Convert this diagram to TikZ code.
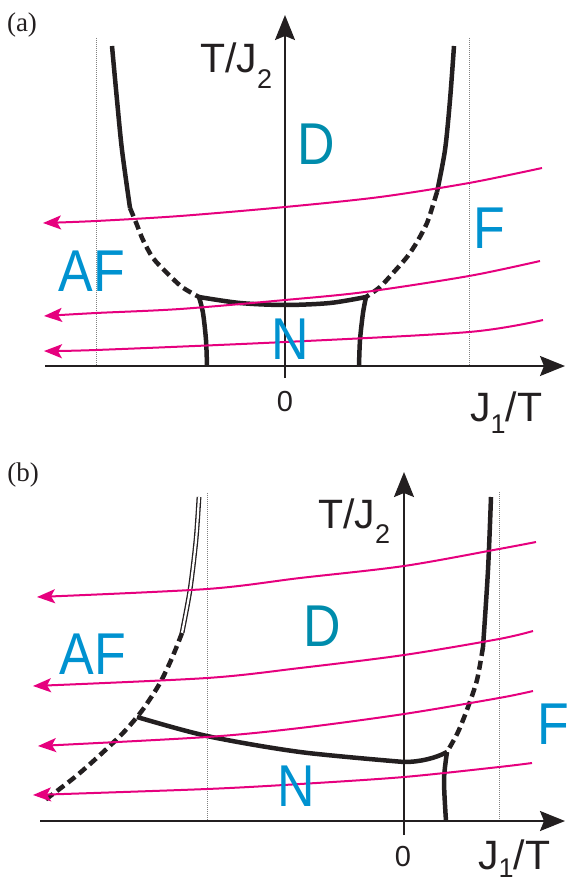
\documentclass[tikz,border=0pt]{standalone}
\usepackage{graphicx}
\usepackage{fontspec}
\setmainfont{Liberation Sans}
\newfontfamily\seriffam{Liberation Serif}
\usetikzlibrary{arrows.meta}
\definecolor{ink}{RGB}{35,31,32}
\definecolor{mag}{RGB}{230,0,126}
\definecolor{lblue}{RGB}{0,146,208}
\definecolor{dteal}{RGB}{0,140,172}
\newcommand\phlab[1]{\scalebox{0.88}[1]{#1}}
\begin{document}
\begin{tikzpicture}[x=1pt,y=-1pt,
  axis/.style={ink, line width=2pt, -{Stealth[length=25pt,width=20pt,inset=4pt]}},
  bound/.style={ink, line width=4.5pt},
  crossover/.style={ink, line width=4.5pt, dash pattern=on 9pt off 5pt},
  flow/.style={mag, line width=2pt, -{Stealth[length=18pt,width=14pt,inset=4pt]}},
  guide/.style={gray, line width=0.8pt, dash pattern=on 1pt off 1pt},
  phase/.style={lblue, font=\fontsize{59}{59}\selectfont, inner sep=0pt},
  axlabel/.style={ink, font=\fontsize{41}{41}\selectfont, inner sep=0pt, anchor=base west},
  zerolab/.style={ink, font=\fontsize{29}{29}\selectfont, inner sep=0pt},
  panel/.style={ink, font=\seriffam\fontsize{27}{27}\selectfont, inner sep=0pt}]
\useasboundingbox (0,0) rectangle (568,883);

% ================= panel (a) =================
\node[panel] (pa) at (22,25) {(a)};
% guides
\coordinate (ga1) at (96,38);  \coordinate (ga2) at (96,366);
\coordinate (gb1) at (469,38); \coordinate (gb2) at (469,366);
\draw[guide] (ga1) -- (ga2);
\draw[guide] (gb1) -- (gb2);
% axes
\coordinate (axa0) at (45,366);  \coordinate (axa1) at (565,366);
\coordinate (aya0) at (285,378); \coordinate (aya1) at (285,15);
\draw[axis] (axa0) -- (axa1);
\draw[axis] (aya0) -- (aya1);
% junctions
\coordinate (aL) at (199,297);
\coordinate (aR) at (366,297);
\coordinate (aLs) at (130,208);
\coordinate (aRs) at (437,192);
% left boundary
\draw[bound] plot[smooth] coordinates {(112,46) (117,100) (122,150) (aLs)};
\draw[crossover] plot[smooth] coordinates {(aLs) (137,225) (143,240) (153,258) (167,273) (182,287) (aL)};
% right boundary
\draw[bound] plot[smooth] coordinates {(454,46) (450,100) (445,150) (aRs)};
\draw[crossover] plot[smooth] coordinates {(aRs) (433,205) (427,223) (417,242) (407,257) (393,273) (380,287) (aR)};
% N region
\draw[bound, line join=round] plot[smooth] coordinates {(aL) (240,303) (285,305) (330,303) (aR)};
\draw[bound] plot[smooth] coordinates {(aL) (203,313) (206,340) (207,366)};
\draw[bound] plot[smooth] coordinates {(aR) (363,313) (360,340) (359,366)};
% flows
\draw[flow] plot[smooth, tension=0.5] coordinates {(542,168) (469,183) (380,197) (285,207) (180,216) (96,221) (43,223)};
\draw[flow] plot[smooth, tension=0.5] coordinates {(540,261) (469,276) (365,292) (285,300) (180,309) (96,313) (44,316)};
\draw[flow] plot[smooth, tension=0.5] coordinates {(543,320) (469,332) (285,342) (96,350) (44,351)};
% labels
\node[axlabel] (tja) at (200,73) {T/J\raisebox{-0.37em}{\fontsize{27}{27}\selectfont 2}};
\node[axlabel] (jta) at (470,421) {J\raisebox{-0.3em}{\fontsize{27}{27}\selectfont 1}/T};
\node[zerolab] (za) at (285,402) {0};
\node[phase, text=dteal] (Da) at (316,144) {\phlab{D}};
\node[phase] (AFa) at (92,271) {\phlab{AF}};
\node[phase] (Fa) at (489,228) {\phlab{F}};
\node[phase] (Na) at (290,339) {\phlab{N}};

% ================= panel (b) =================
\node[panel] (pb) at (23,475) {(b)};
\coordinate (gc1) at (207,493); \coordinate (gc2) at (207,821);
\coordinate (gd1) at (499,492); \coordinate (gd2) at (499,821);
\draw[guide] (gc1) -- (gc2);
\draw[guide] (gd1) -- (gd2);
\coordinate (axb0) at (40,821);  \coordinate (axb1) at (565,821);
\coordinate (ayb0) at (404,835); \coordinate (ayb1) at (404,472);
\draw[axis] (axb0) -- (axb1);
\draw[axis] (ayb0) -- (ayb1);
% junctions
\coordinate (bD) at (182,633);
\coordinate (bL) at (137,717);
\coordinate (bM) at (404,762);
\coordinate (bR) at (447,752);
\coordinate (bRs) at (483,647);
% left boundary: double line then dashed
\draw[ink, double=white, double distance=2.2pt, line width=1.3pt] plot[smooth] coordinates {(199,497) (196,540) (190,590) (bD)};
\draw[crossover] plot[smooth] coordinates {(bD) (172,658) (160,683) (146,705) (bL) (122,734) (100,755) (75,777) (45,800)};
% right boundary
\draw[bound] plot[smooth] coordinates {(491,497) (488,570) (bRs)};
\draw[crossover] plot[smooth] coordinates {(bRs) (477,680) (468,707) (458,732) (bR)};
% N region
\draw[bound] plot[smooth, tension=0.5] coordinates {(bL) (207,736) (300,752) (bM)};
\draw[bound] (bM) .. controls (420,762) and (436,758) .. (bR);
\draw[bound] plot[smooth] coordinates {(bR) (444,780) (446,821)};
% flows
\draw[flow] plot[smooth, tension=0.5] coordinates {(536,542) (499,549) (404,566) (300,578) (207,589) (37,597)};
\draw[flow] plot[smooth, tension=0.5] coordinates {(533,631) (499,639) (404,655) (300,668) (207,678) (33,686)};
\draw[flow] plot[smooth, tension=0.5] coordinates {(533,691) (499,698) (404,714) (300,728) (207,737) (38,746)};
\draw[flow] plot[smooth, tension=0.5] coordinates {(532,763) (499,767) (404,777) (300,784) (207,789) (33,795)};
% labels
\node[axlabel] (tjb) at (318,528) {T/J\raisebox{-0.37em}{\fontsize{27}{27}\selectfont 2}};
\node[axlabel] (jtb) at (478,869) {J\raisebox{-0.2em}{\fontsize{27}{27}\selectfont 1}/T};
\node[zerolab] (zb) at (403,857) {0};
\node[phase, text=dteal] (Db) at (322,626) {\phlab{D}};
\node[phase] (AFb) at (93,654) {\phlab{AF}};
\node[phase] (Fb) at (553,724) {\phlab{F}};
\node[phase] (Nb) at (296,786) {\phlab{N}};
\end{tikzpicture}
\end{document}
